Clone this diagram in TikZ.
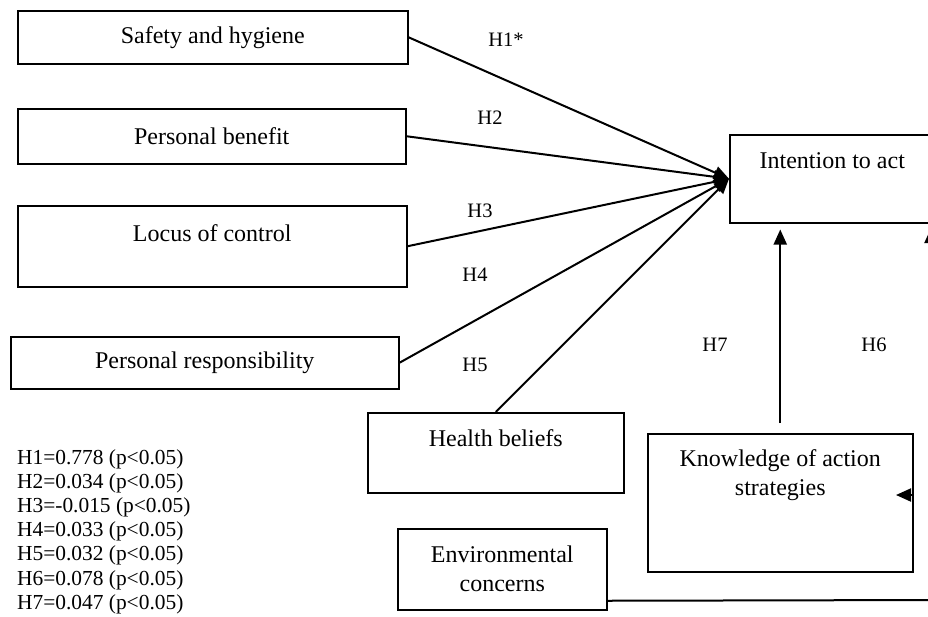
\documentclass[tikz,border=0pt]{standalone}
\usepackage{fontspec}
\setmainfont{Liberation Serif}
\usetikzlibrary{
    arrows.meta,
    calc,
    positioning
}
\newcommand\diagboxfont{\fontsize{24}{29}\selectfont}
\newcommand\hypfont{\fontsize{20.5}{24}\selectfont}
\newcommand\keyfont{\fontsize{21.4}{24.2}\selectfont}

\begin{document}
\begin{tikzpicture}[x=1pt, y=-1pt,
    box/.style={draw, line width=1.5pt, inner sep=0pt, anchor=north west, font=\diagboxfont, align=center},
    arr/.style={-{Triangle[length=15pt,width=13pt]}, line width=2pt},
    hyp/.style={font=\hypfont, inner sep=0pt}]
    \path[use as bounding box] (0,0) rectangle (928,616);
    \clip (0,0) rectangle (928,616);
    % factors on the left
    \node[box, minimum width=390pt, minimum height=53pt] (safety) at (17,10) {Safety and hygiene};
    \node[box, minimum width=388pt, minimum height=55pt] (benefit) at (17,108) {Personal benefit};
    \node[box, minimum width=389pt, minimum height=81pt, text depth=27pt] (locus) at (17,205) {Locus of control};
    \node[box, minimum width=388pt, minimum height=52pt] (resp) at (10,336) {Personal responsibility};
    \node[box, minimum width=256pt, minimum height=80pt, text depth=30pt] (health) at (367,412) {Health beliefs};
    \node[box, minimum width=209pt, minimum height=81pt] (env) at (397,528) {Environmental\\concerns};
    % right hand side
    \node[box, minimum width=205pt, minimum height=88pt, text depth=36pt] (intent) at (729,134) {Intention to act};
    \node[box, minimum width=265pt, minimum height=138pt, text depth=61pt] (know) at (647,433) {Knowledge of action\\strategies};
    % hypotheses
    \node[hyp] (hone) at (506,40) {H1*};
    \node[hyp] (htwo) at (490,118) {H2};
    \node[hyp] (hthree) at (480,211) {H3};
    \node[hyp] (hfour) at (475,275) {H4};
    \node[hyp] (hfive) at (475,365) {H5};
    \node[hyp] (hseven) at (715,345) {H7};
    \node[hyp] (hsix) at (874,345) {H6};
    \node[font=\keyfont, align=left, anchor=north west, inner sep=0pt] (key) at (17,449)
        {H1=0.778 (p<0.05)\\H2=0.034 (p<0.05)\\H3=-0.015 (p<0.05)\\H4=0.033 (p<0.05)\\H5=0.032 (p<0.05)\\H6=0.078 (p<0.05)\\H7=0.047 (p<0.05)};
    \coordinate (envend) at (940,600);
    \coordinate (knowtip) at (896,495);
    \coordinate (sixtip) at (931,228);
    \draw
    (safety.east) edge[arr] (intent.west)
    (benefit.east) edge[arr] (intent.west)
    (locus.east) edge[arr] (intent.west)
    (resp.east) edge[arr] (intent.west)
    (health.north) edge[arr] (intent.west)
    (know.north) edge[arr, shorten <=10pt, shorten >=6pt] (know.north |- intent.south)
    ([yshift=-31.5pt]env.east) edge[line width=2pt] (envend)
    (know.east |- knowtip) edge[arr] (knowtip)
    ([yshift=-17pt]sixtip) edge[arr] (sixtip);
\end{tikzpicture}
\end{document}
